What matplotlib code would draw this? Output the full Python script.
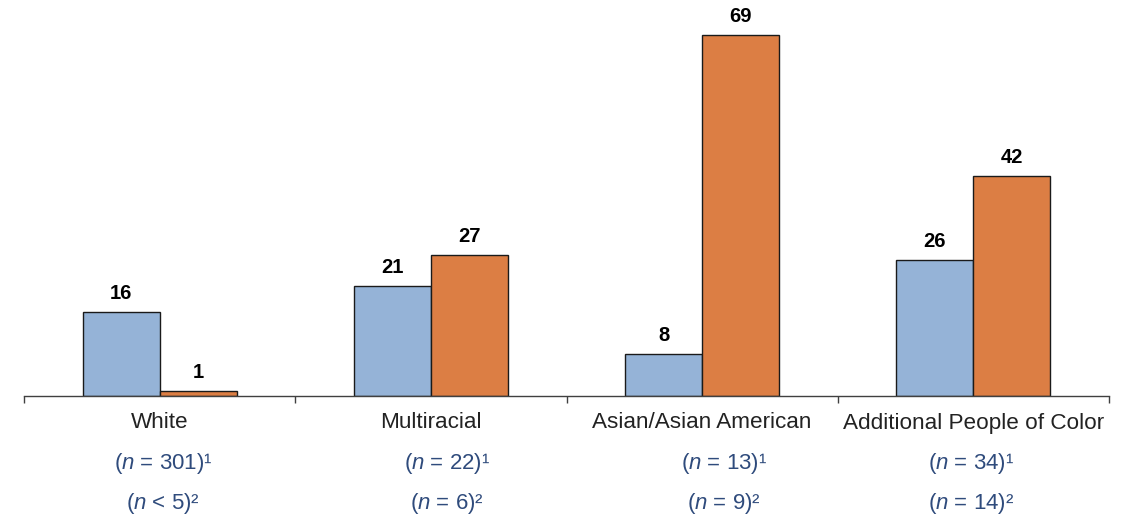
import matplotlib
matplotlib.use("Agg")
import matplotlib.pyplot as plt
import numpy as np

categories = ["White", "Multiracial", "Asian/Asian American", "Additional People of Color"]
series1 = [16, 21, 8, 26]
series2 = [1, 27, 69, 42]
n_line1 = ["301", "22", "13", "34"]
n_line2 = ["< 5", "= 6", "= 9", "= 14"]

plt.rcParams['font.family'] = ['Liberation Sans', 'DejaVu Sans']
plt.rcParams['mathtext.fontset'] = 'custom'
plt.rcParams['mathtext.it'] = 'Liberation Sans:italic'
plt.rcParams['mathtext.rm'] = 'Liberation Sans'

blue = '#95B3D7'
orange = '#DC7E44'
navy = '#2F4B7C'

fig = plt.figure(figsize=(11.25, 5.2), dpi=100)
ax = fig.add_axes([24/1125, (520-396)/520, (1109-24)/1125, 392/520])

x = np.arange(len(categories))
w = 0.284
b1 = ax.bar(x - w/2, series1, w, color=blue, edgecolor='#1a1a1a', linewidth=1.0)
b2 = ax.bar(x + w/2, series2, w, color=orange, edgecolor='#1a1a1a', linewidth=1.0)

for bars, vals in ((b1, series1), (b2, series2)):
    for r, v in zip(bars, vals):
        ax.annotate(str(v), (r.get_x() + r.get_width()/2, r.get_height()),
                    xytext=(0, 6.5), textcoords='offset points', ha='center', va='bottom',
                    fontsize=14.5, fontweight='bold', color='black')

ax.set_xlim(-0.5, len(categories) - 0.5)
ax.set_ylim(0, 75)
for s in ['top', 'right', 'left']:
    ax.spines[s].set_visible(False)
ax.spines['bottom'].set_color('#404040')
ax.spines['bottom'].set_linewidth(1.0)
ax.set_yticks([])
ax.set_xticks(np.arange(-0.5, len(categories), 1.0))
ax.set_xticklabels([])
ax.tick_params(axis='x', direction='out', length=5, width=1.0, color='#404040')

n_offsets = [0.013, 0.06, 0.08, -0.01]
trans = ax.get_xaxis_transform()
for i, cat in enumerate(categories):
    ax.text(i, (396-423)/392, cat, transform=trans, ha='center', va='center',
            fontsize=16.2, color='#222222')
    ax.text(i + n_offsets[i], (396-464)/392, r"($\mathit{n}$ = " + n_line1[i] + ")¹",
            transform=trans, ha='center', va='center', fontsize=16, color=navy)
    ax.text(i + n_offsets[i], (396-503)/392, r"($\mathit{n}$ " + n_line2[i] + ")²",
            transform=trans, ha='center', va='center', fontsize=16, color=navy)

fig.savefig("out.png", dpi=100)
